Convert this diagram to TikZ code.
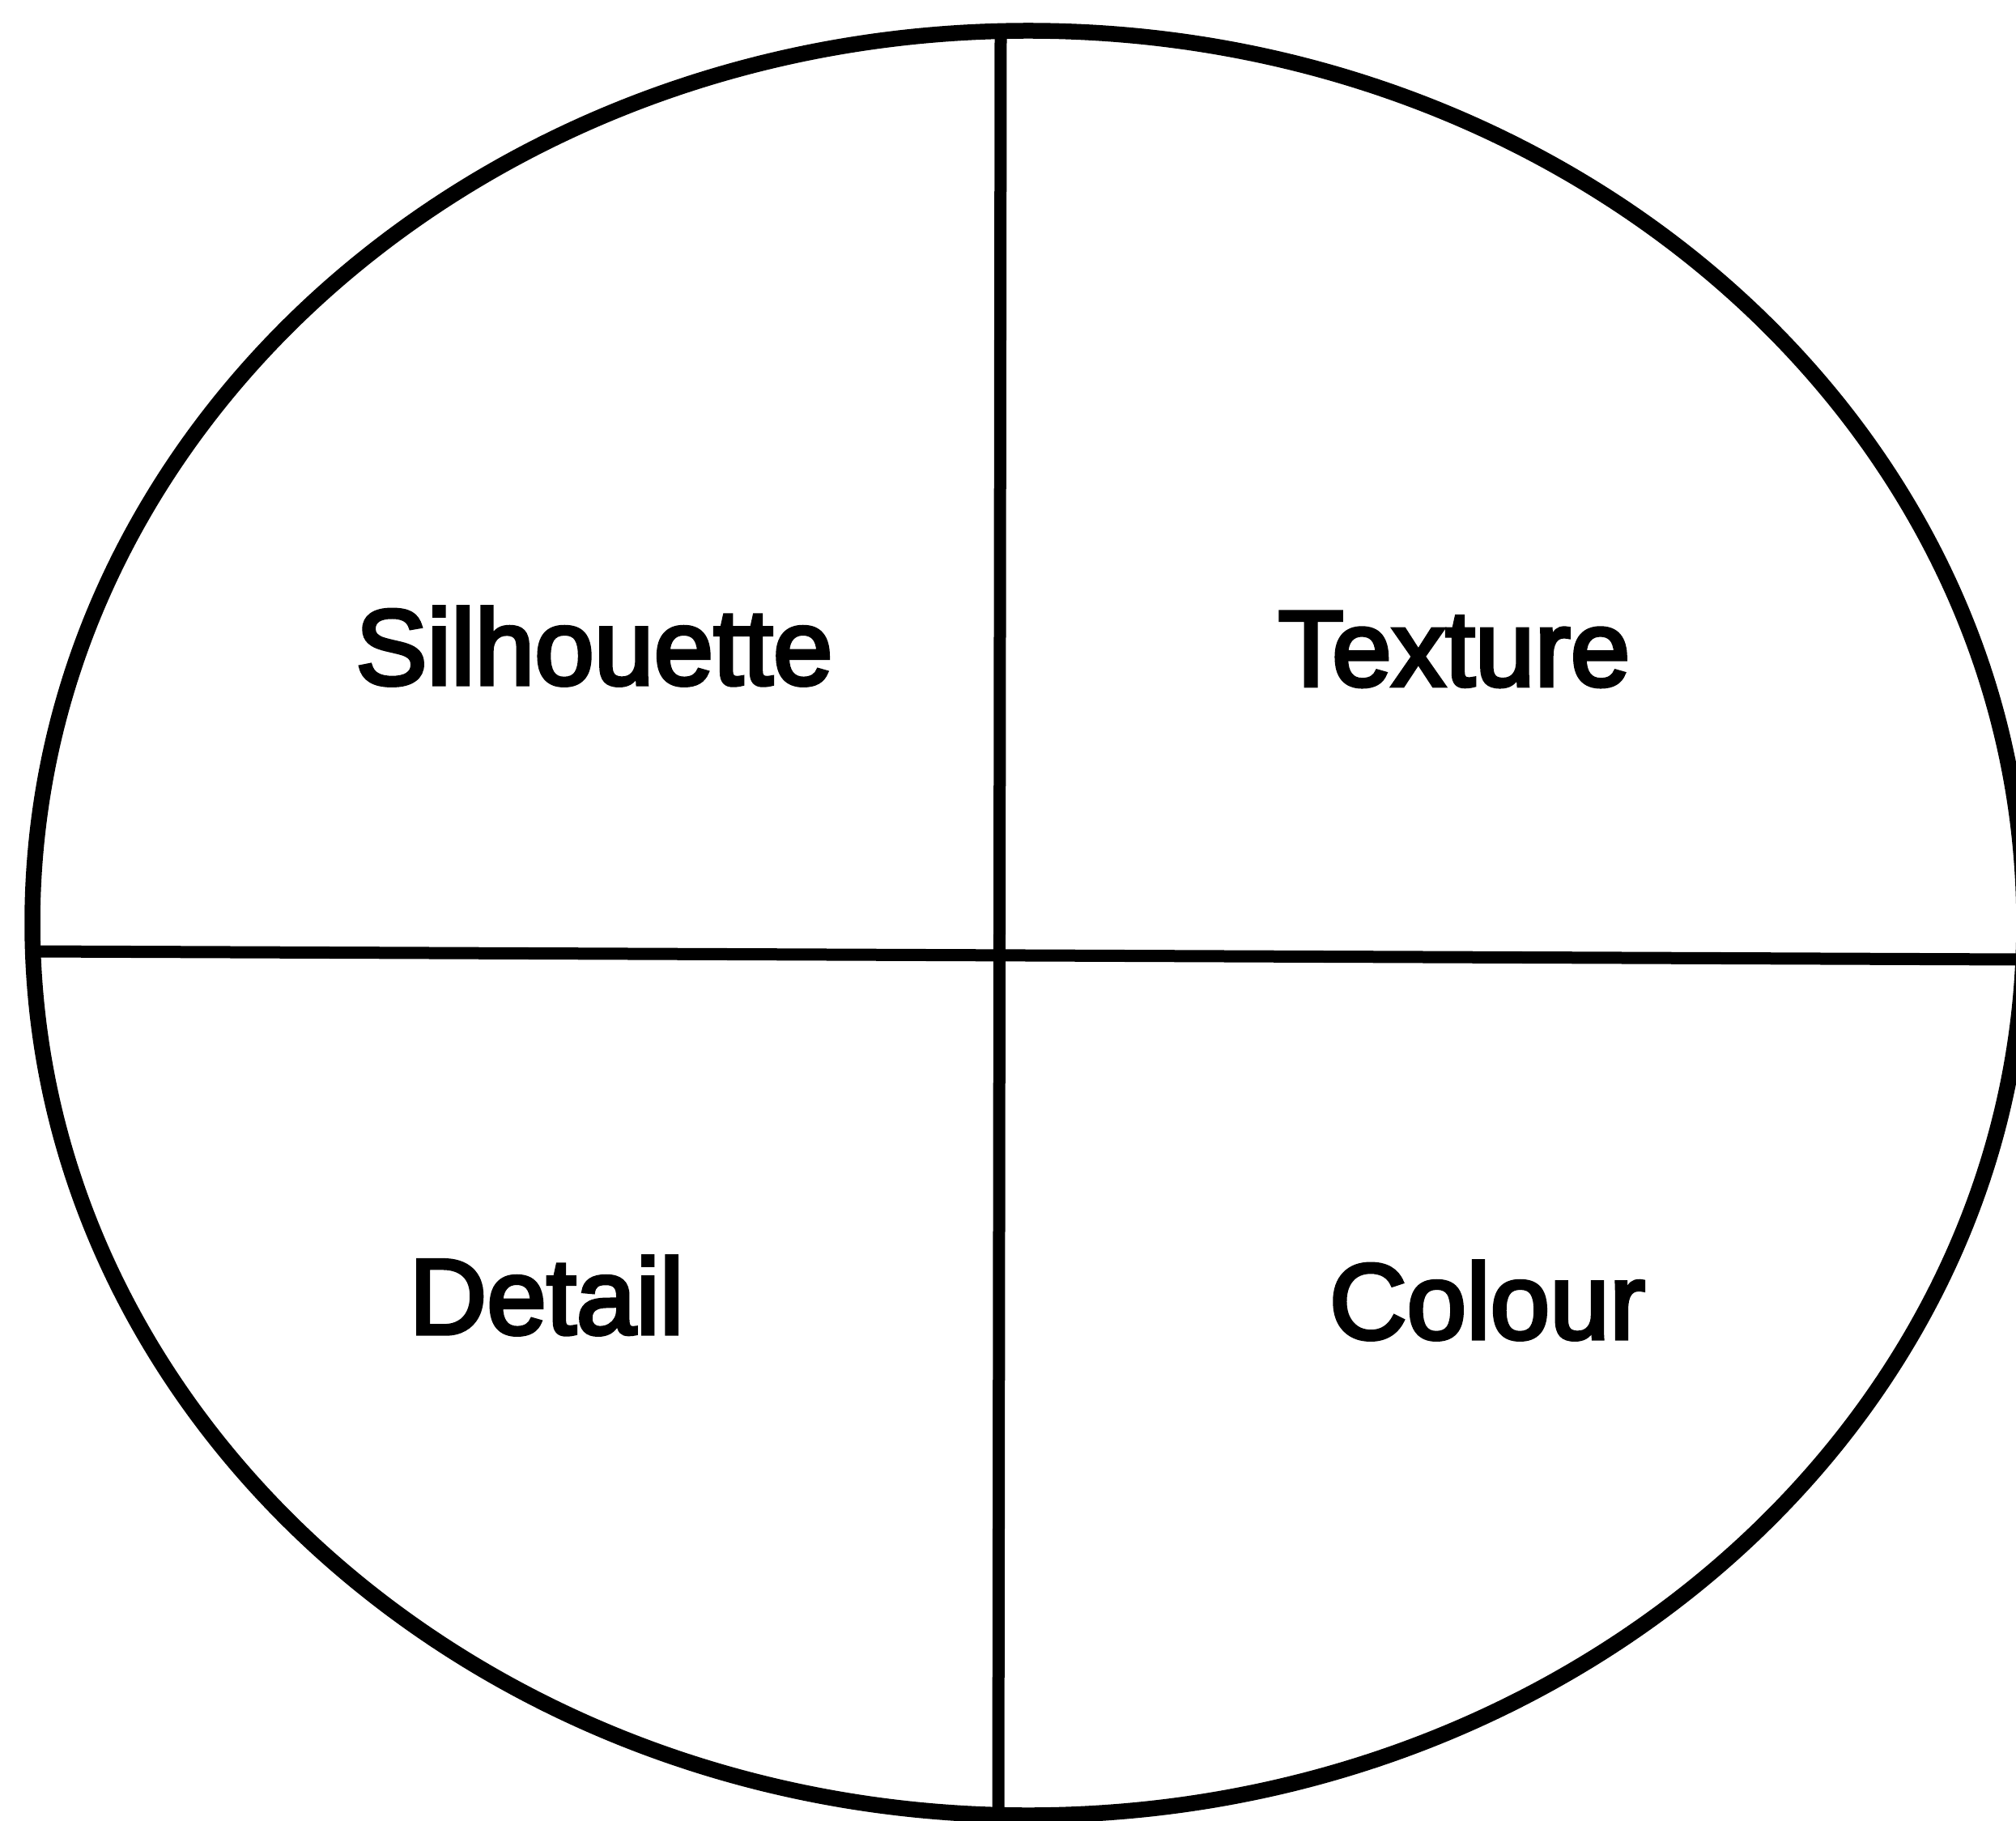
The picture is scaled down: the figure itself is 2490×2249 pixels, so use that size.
\documentclass[tikz,border=0pt]{standalone}
\usepackage{fontspec}
\setmainfont{Liberation Sans}
\newfontfamily\labelfont[FakeBold=3.5]{Liberation Sans}
\begin{document}
\begin{tikzpicture}[x=0.2pt,y=-0.2pt,
  outline/.style={line width=3.9pt,black},
  divider/.style={line width=3pt,black},
  label/.style={font=\labelfont\fontsize{26.5}{30}\selectfont,inner sep=0pt}]
\useasboundingbox (0,0) rectangle (2490,2249);
\clip (0,0) rectangle (2490,2249);
\fill[white] (0,0) rectangle (2490,2249);
\draw[outline] (1270,1140) ellipse [x radius=1230, y radius=1102];
\coordinate (top) at (1236,38);
\coordinate (bot) at (1233,2240);
\coordinate (lft) at (40,1175);
\coordinate (rgt) at (2495,1185);
\draw[divider] (top) -- (bot);
\draw[divider] (lft) -- (rgt);
\node[label] (sil) at (734,798) {Silhouette};
\node[label] (tex) at (1796,802) {Texture};
\node[label] (det) at (675,1600) {Detail};
\node[label] (col) at (1837,1606) {Colour};
\end{tikzpicture}
\end{document}
